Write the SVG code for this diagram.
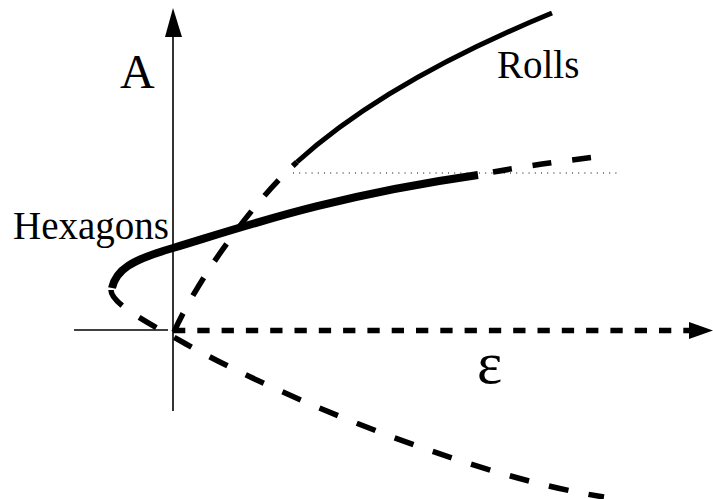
<svg xmlns="http://www.w3.org/2000/svg" width="713" height="499" viewBox="0 0 713 499">
<style>
.axis{stroke:#000;stroke-width:1.6;fill:none}
.dash{stroke:#000;stroke-width:5.5;fill:none;stroke-dasharray:20 20.4}
.solid{stroke:#000;stroke-width:5;fill:none}
.thick{stroke:#000;stroke-width:8;fill:none}
.dot{stroke:#000;stroke-width:1;fill:none;stroke-dasharray:1 5.2}
.lbl{font-family:'Liberation Serif','Times New Roman',serif;fill:#000}
</style>
<rect width="713" height="499" fill="#fff"/>
<g id="axes">
<line class="axis" x1="173" y1="411" x2="173" y2="30"/>
<polygon points="173,8 165,37 182,37" fill="#000"/>
<line class="axis" x1="74" y1="330" x2="168" y2="330"/>
<line x1="173" y1="330.5" x2="690" y2="330.5" stroke="#000" stroke-width="5.5" stroke-dasharray="12.3 12"/>
<polygon points="713,330.5 689,322 689,339" fill="#000"/>
</g>
<g id="connectors">
<path id="rolls-unstable" class="dash" style="stroke-dasharray:21 20" d="M174,332 C190,295 240,215 297,162"/>
<path id="rolls-stable" class="solid" d="M297,162 C360,105 450,55 552,13"/>
<path id="hex-stable" class="thick" d="M112,288 C116,270 131,260 173,248 C240,228 330,196 478,175"/>
<path id="hex-unstable-upper" class="dash" style="stroke-dasharray:19 21" d="M493,172 Q545,163 596,157"/>
<path id="hex-unstable-lower" class="dash" d="M111,290 C111,305 156,327 186,344 C290,402 480,478 604,497"/>
<line id="threshold" class="dot" x1="293" y1="173" x2="620" y2="173"/>
</g>
<g id="label-A"><text class="lbl" x="120" y="88" font-size="48">A</text></g>
<g id="label-rolls"><text class="lbl" x="497" y="78" font-size="39">Rolls</text></g>
<g id="label-hexagons"><text class="lbl" x="13" y="239" font-size="39">Hexagons</text></g>
<g id="label-eps"><text class="lbl" x="477" y="383" font-size="60">ε</text></g>
</svg>
